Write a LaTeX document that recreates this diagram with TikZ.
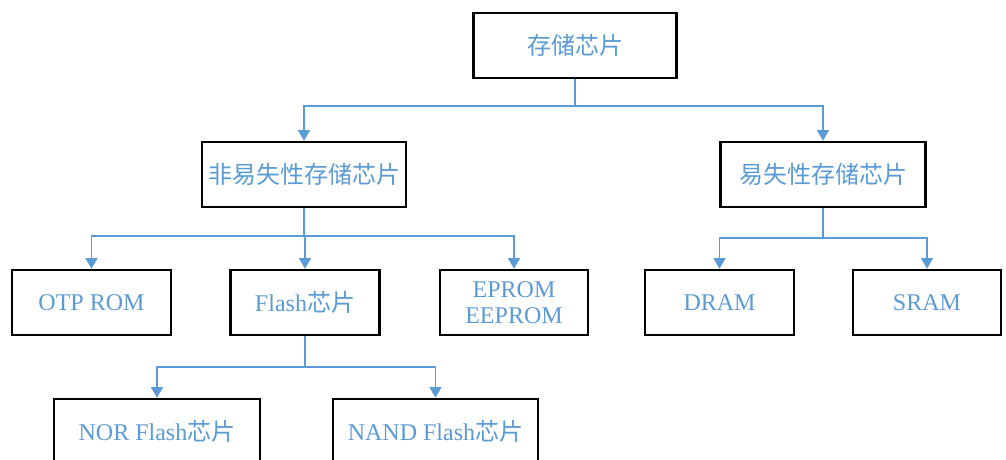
\documentclass[tikz,border=0pt]{standalone}
\usepackage{fontspec}
\setmainfont{Liberation Serif}
\newfontfamily\cjk{Noto Sans CJK SC}
\usetikzlibrary{arrows.meta}
\definecolor{txtblue}{RGB}{91,155,213}
\definecolor{lineblue}{RGB}{91,155,213}
\tikzset{
  box/.style={draw=black, line width=1.9pt, inner sep=0pt, align=center,
    minimum height={65*0.75pt}, minimum width={#1*0.75pt},
    text=txtblue, font=\fontsize{18}{19.5}\selectfont},
  conn/.style={draw=lineblue, line width=1.1pt, -{Triangle[width=9pt,length=8pt]}},
  plain/.style={draw=lineblue, line width=1.1pt}
}
\begin{document}
\begin{tikzpicture}[x=0.75pt,y=-0.75pt]
\useasboundingbox (0,0) rectangle (1006,460);
\node[box=203] (root) at (575,45.5) {\cjk 存储芯片};
\node[box=204] (nv) at (304,174.5) {\cjk 非易失性存储芯片};
\node[box=205] (v) at (823,174.5) {\cjk 易失性存储芯片};
\node[box=159] (otp) at (91.5,302.5) {OTP ROM};
\node[box=149] (flash) at (305,302.5) {Flash{\cjk 芯片}};
\node[box=148] (eprom) at (514,302.5) {EPROM\\EEPROM};
\node[box=149] (dram) at (719.5,302.5) {DRAM};
\node[box=148] (sram) at (927,302.5) {SRAM};
\node[box=206] (nor) at (157,431.5) {NOR Flash{\cjk 芯片}};
\node[box=205] (nand) at (435.5,431.5) {NAND Flash{\cjk 芯片}};
% junctions
\coordinate (j1) at (575,106);
\coordinate (j2) at (304,236);
\coordinate (j3) at (823,238);
\coordinate (j4) at (305,367);
\draw[plain] (root.south) -- (j1);
\draw[conn] (j1) -| (nv.north);
\draw[conn] (j1) -| (v.north);
\draw[plain] (nv.south) -- (j2);
\draw[conn] (j2) -| (otp.north);
\draw[conn] (j2) -| (flash.north);
\draw[conn] (j2) -| (eprom.north);
\draw[plain] (v.south) -- (j3);
\draw[conn] (j3) -| (dram.north);
\draw[conn] (j3) -| (sram.north);
\draw[plain] (flash.south) -- (j4);
\draw[conn] (j4) -| (nor.north);
\draw[conn] (j4) -| (nand.north);
\end{tikzpicture}
\end{document}
